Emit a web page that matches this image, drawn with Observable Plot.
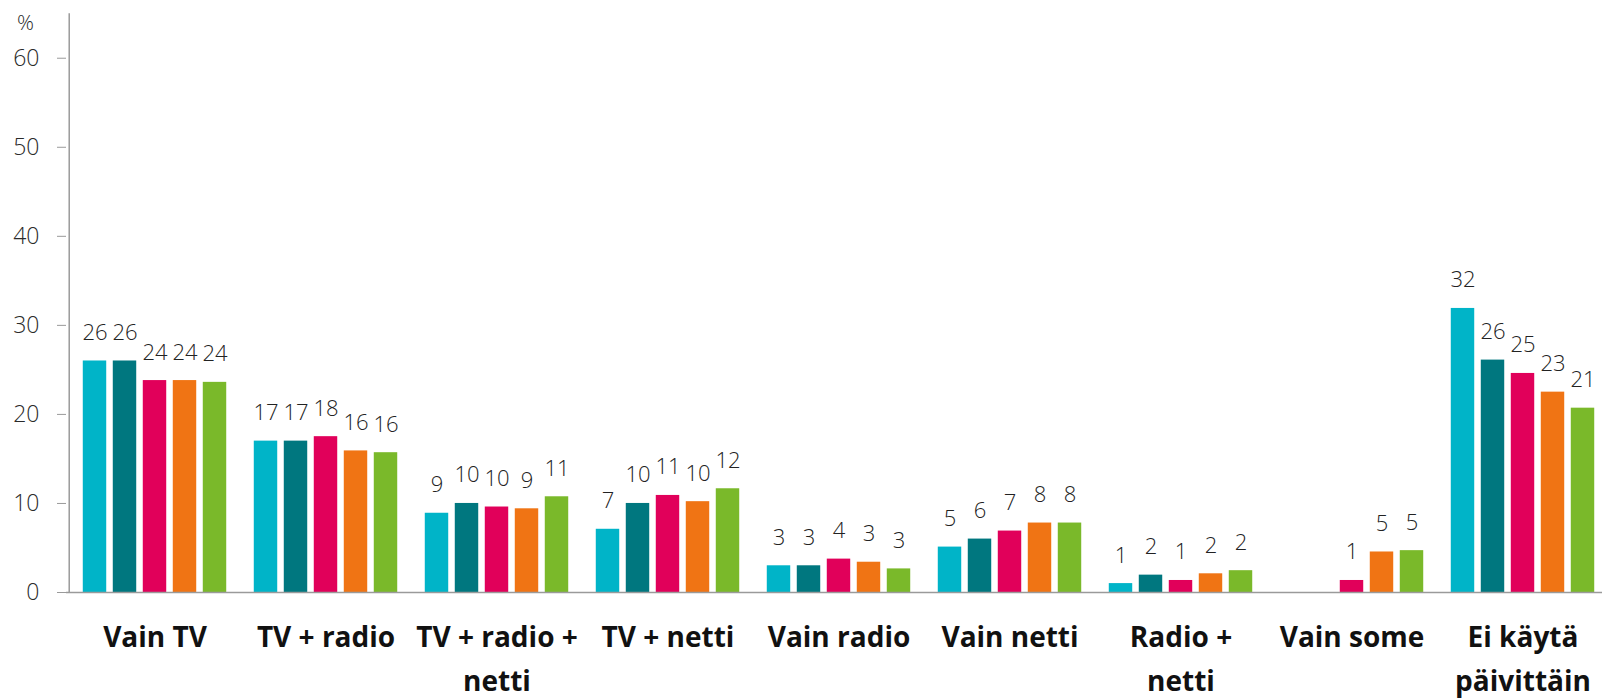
<!DOCTYPE html>
<html>
<head>
<meta charset="utf-8">
<script src="https://cdn.jsdelivr.net/npm/d3@7"></script>
<script src="https://cdn.jsdelivr.net/npm/@observablehq/plot@0.6"></script>
<style>
  html, body { margin: 0; padding: 0; background: #fff; }
  #chart svg { display: block; overflow: hidden; }
  g[aria-label="x-axis tick label"] text { font-weight: 700; }
</style>
</head>
<body>
<div id="chart"></div>
<script>
// ---- data ----
const categories = ["Vain TV", "TV + radio", "TV + radio + netti", "TV + netti", "Vain radio", "Vain netti", "Radio + netti", "Vain some", "Ei käytä päivittäin"];
const categoryLabels = ["Vain TV", "TV + radio", "TV + radio +\nnetti", "TV + netti", "Vain radio", "Vain netti", "Radio +\nnetti", "Vain some", "Ei käytä\npäivittäin"];
const seriesNames = ["s1", "s2", "s3", "s4", "s5"];
const seriesColors = ["#00B4C8", "#00777F", "#E1005A", "#F07414", "#7AB92A"];
const s1 = [26.0, 17.0, 8.9, 7.1, 3.0, 5.1, 1.0, null, 31.9];
const s2 = [26.0, 17.0, 10.0, 10.0, 3.0, 6.0, 1.95, null, 26.1];
const s3 = [23.8, 17.5, 9.6, 10.9, 3.75, 6.9, 1.35, 1.35, 24.6];
const s4 = [23.8, 15.9, 9.4, 10.2, 3.4, 7.8, 2.1, 4.55, 22.5];
const s5 = [23.6, 15.7, 10.75, 11.65, 2.65, 7.8, 2.45, 4.7, 20.7];
const seriesValues = [s1, s2, s3, s4, s5];
const yTicks = [0, 10, 20, 30, 40, 50, 60];
const yUnit = "%";

// ---- layout ----
const W = 1602, H = 698;
const ML = 66, MR = -8, MT = 13.2, MB = 106;
const step = (W - ML - MR) / categories.length;
const barW = 24, barStep = 30;
const nS = seriesNames.length;

const rows = seriesValues.map((vals, j) =>
  categories.map((c, i) => ({category: c, series: seriesNames[j], value: vals[i]}))
    .filter(d => d.value != null)
);

const marks = [];
rows.forEach((data, j) => {
  const off = (j - (nS - 1) / 2) * barStep;
  const inL = (step - barW) / 2 + off;
  const inR = (step - barW) / 2 - off;
  marks.push(Plot.barY(data, {x: "category", y: "value", fill: seriesColors[j], insetLeft: inL, insetRight: inR}));
  marks.push(Plot.text(data, {
    x: "category", y: "value", text: d => String(Math.round(d.value)),
    dx: off, dy: -21, lineAnchor: "bottom", fontSize: 22, fontWeight: 300, fill: "#222"
  }));
});

const chart = Plot.plot({
  width: W, height: H,
  marginLeft: ML, marginRight: MR, marginTop: MT, marginBottom: MB,
  style: {fontFamily: "'Open Sans', 'Noto Sans', sans-serif", background: "#fff"},
  x: {domain: categories, padding: 0, axis: null, label: null},
  y: {domain: [0, 65], axis: null, label: null},
  marks: [
    ...marks,
    Plot.ruleY([0], {stroke: "#9a9a9a", strokeWidth: 1.5}),
    Plot.ruleX([categories[0]], {y1: 0, y2: 65, dx: -step / 2, stroke: "#9a9a9a", strokeWidth: 1.5}),
    Plot.axisY({ticks: yTicks, label: null, tickSize: 9, tickPadding: 18, fontSize: 23, fontWeight: 300, stroke: "#9a9a9a", fill: "#2a2a2a", tickFormat: d => String(d)}),
    Plot.axisX({
      label: null, tickSize: 0, tickPadding: 24, fontSize: 28, fontWeight: 700, lineHeight: 1.55, fill: "#111",
      tickFormat: d => categoryLabels[categories.indexOf(d)]
    }),
    Plot.text([yUnit], {frameAnchor: "top-left", dx: -41, dy: 10, textAnchor: "middle", lineAnchor: "middle", fontSize: 21, fontWeight: 300, fill: "#2a2a2a"})
  ]
});
document.getElementById("chart").appendChild(chart);
</script>
</body>
</html>
